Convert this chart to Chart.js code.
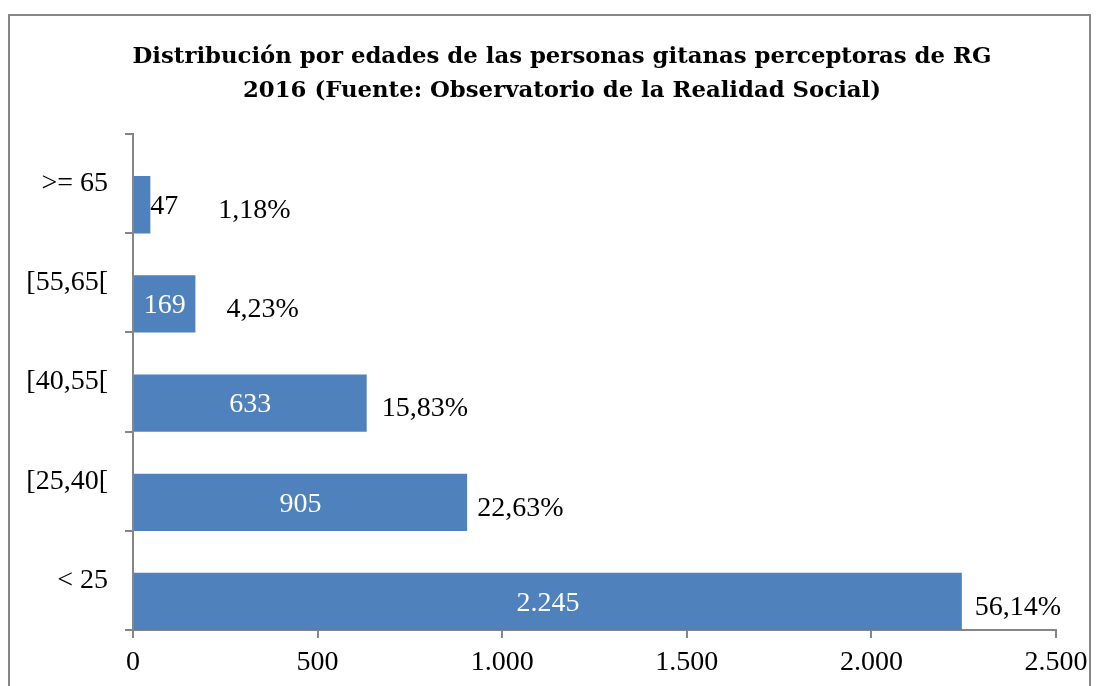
<!DOCTYPE html>
<html lang="es">
<head>
    <meta charset="UTF-8">
    <title>Distribución por edades</title>
    <script src="https://cdn.jsdelivr.net/npm/chart.js@4.4.0/dist/chart.umd.min.js"></script>
    <style>
        body { margin: 0; background: #fff; }
        #wrap { width: 1102px; height: 686px; }
    </style>
</head>
<body>
<div id="wrap"><canvas id="edades"></canvas></div>
<script>
    // datos
    var categorias = ['>= 65', '[55,65[', '[40,55[', '[25,40[', '< 25'];
    var personas = [47, 169, 633, 905, 2245];
    var porcentajes = [1.18, 4.23, 15.83, 22.63, 56.14];
    var ticksX = [0, 500, 1000, 1500, 2000, 2500];

    var serif = "'Liberation Serif', 'Times New Roman', serif";
    var gris = '#868686';
    var azul = '#4F81BD';

    function miles(n) {
        return String(n).replace(/\B(?=(\d{3})+(?!\d))/g, '.');
    }

    // separacion extra de las etiquetas de porcentaje (como en el original)
    var huecoPct = [68, 31, 15, 10, 13];

    var marco = {
        id: 'marco',
        afterLayout: function(chart) {
            // el titulo va centrado en todo el marco, no solo en el area util
            chart.titleBlock.left += 59;
        },
        beforeDraw: function(chart) {
            var c = chart.ctx;
            c.save();
            c.fillStyle = '#fff';
            c.fillRect(0, 0, chart.width, chart.height);
            c.strokeStyle = gris;
            c.lineWidth = 2;
            c.strokeRect(9, 15, 1081, 700);
            c.restore();
        }
    };

    var etiquetas = {
        id: 'etiquetas',
        afterDatasetsDraw: function(chart) {
            var c = chart.ctx;
            var meta = chart.getDatasetMeta(1);
            c.save();
            c.font = '28px ' + serif;
            c.textBaseline = 'middle';
            meta.data.forEach(function(bar, i) {
                var txt = miles(personas[i]);
                var w = c.measureText(txt).width;
                var ancho = bar.x - bar.base;
                if (w + 4 < ancho) {
                    c.fillStyle = '#fff';
                    c.textAlign = 'center';
                    c.fillText(txt, (bar.x + bar.base) / 2, bar.y + 2);
                } else {
                    c.fillStyle = '#000';
                    c.textAlign = 'left';
                    c.fillText(txt, bar.x, bar.y + 2);
                }
                c.fillStyle = '#000';
                c.textAlign = 'left';
                var pct = porcentajes[i].toFixed(2).replace('.', ',') + '%';
                c.fillText(pct, bar.x + huecoPct[i], bar.y + 6);
            });
            c.restore();
        }
    };

    new Chart(document.getElementById('edades'), {
        type: 'bar',
        data: {
            labels: categorias,
            datasets: [{
                // serie vacia para desplazar la barra hacia abajo como en Excel
                data: personas.map(function() { return 0; }),
                backgroundColor: 'rgba(0,0,0,0)',
                borderWidth: 0
            }, {
                data: personas,
                backgroundColor: azul,
                borderWidth: 0
            }]
        },
        options: {
            indexAxis: 'y',
            responsive: true,
            maintainAspectRatio: false,
            animation: false,
            categoryPercentage: 0.85,
            barPercentage: 1.36,
            layout: { padding: { left: 9, right: 46, top: 0, bottom: 0 } },
            plugins: {
                legend: { display: false },
                tooltip: { enabled: false },
                title: {
                    display: true,
                    text: ['Distribución por edades de las personas gitanas perceptoras de RG',
                           '2016 (Fuente: Observatorio de la Realidad Social)'],
                    color: '#000',
                    font: { family: "'DejaVu Serif', serif", size: 22.8, weight: 'bold', lineHeight: 1.45 },
                    padding: { top: 41, bottom: 27 }
                }
            },
            scales: {
                x: {
                    min: 0,
                    max: 2500,
                    afterBuildTicks: function(scale) {
                        scale.ticks = ticksX.map(function(v) { return { value: v }; });
                    },
                    afterFit: function(scale) { scale.height = 56; },
                    border: { color: gris, width: 2 },
                    grid: { drawOnChartArea: false, color: gris, tickLength: 8, lineWidth: 2 },
                    ticks: {
                        color: '#000',
                        font: { family: serif, size: 28 },
                        padding: 8,
                        maxRotation: 0,
                        callback: function(v) { return miles(v); }
                    }
                },
                y: {
                    afterFit: function(scale) { scale.width = 124; },
                    border: { color: gris, width: 2 },
                    grid: { drawOnChartArea: false, color: gris, tickLength: 8, lineWidth: 2, offset: true },
                    ticks: {
                        color: '#000',
                        font: { family: serif, size: 28 },
                        padding: 17
                    }
                }
            }
        },
        plugins: [marco, etiquetas]
    });
</script>
</body>
</html>
